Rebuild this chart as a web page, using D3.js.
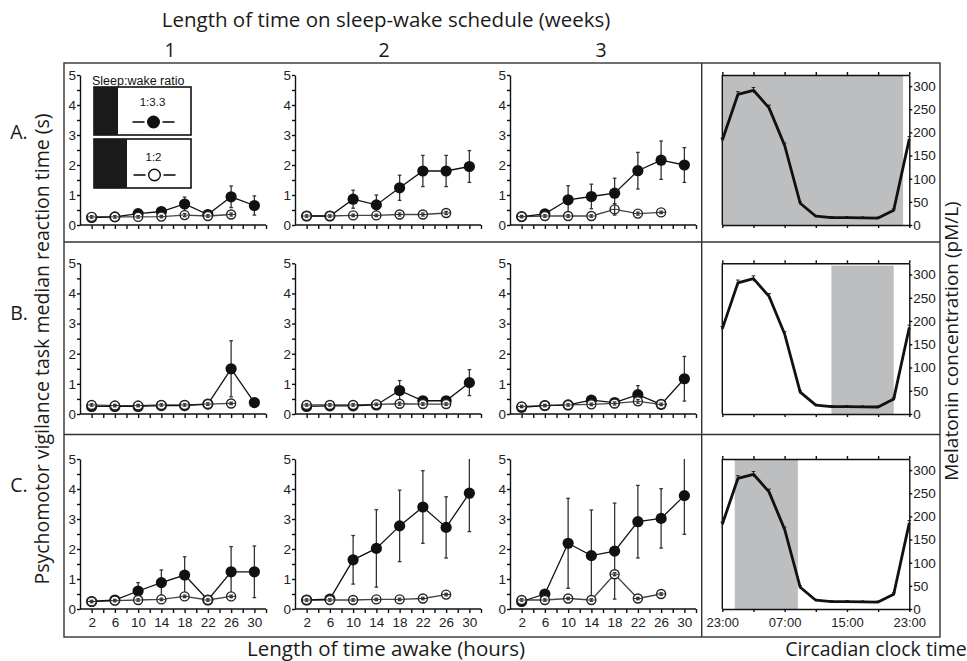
<!DOCTYPE html>
<html><head><meta charset="utf-8">
<script src="https://cdn.jsdelivr.net/npm/d3@7"></script>
<style>body{margin:0;background:#fff}svg{display:block}</style>
</head><body>
<svg id="c" width="967" height="661"></svg>
<script>
// ---------- data ----------
const hours = [2, 6, 10, 14, 18, 22, 26, 30];
const openHours = [2, 6, 10, 14, 18, 22, 26];
const rowLabels = ["A.", "B.", "C."];
const weekLabels = ["1", "2", "3"];
const xTickLabels = [2, 6, 10, 14, 18, 22, 26, 30];

// sleep:wake 1:3.3 (filled) mean and SEM, rows A-C x weeks 1-3
const filledA1 = [0.25, 0.27, 0.38, 0.45, 0.70, 0.35, 0.94, 0.65];
const filledA1err = [0.03, 0.03, 0.05, 0.06, 0.23, 0.05, 0.36, 0.32];
const filledA2 = [0.30, 0.30, 0.86, 0.67, 1.24, 1.80, 1.80, 1.95];
const filledA2err = [0.03, 0.03, 0.30, 0.33, 0.42, 0.52, 0.52, 0.53];
const filledA3 = [0.28, 0.37, 0.84, 0.95, 1.06, 1.81, 2.16, 2.00];
const filledA3err = [0.03, 0.05, 0.47, 0.41, 0.50, 0.61, 0.64, 0.58];
const filledB1 = [0.25, 0.25, 0.25, 0.28, 0.28, 0.33, 1.50, 0.38];
const filledB1err = [0.03, 0.03, 0.03, 0.03, 0.03, 0.04, 0.93, 0.04];
const filledB2 = [0.25, 0.27, 0.27, 0.30, 0.78, 0.44, 0.44, 1.04];
const filledB2err = [0.03, 0.03, 0.03, 0.04, 0.33, 0.05, 0.05, 0.43];
const filledB3 = [0.22, 0.28, 0.30, 0.46, 0.38, 0.64, 0.32, 1.17];
const filledB3err = [0.03, 0.03, 0.03, 0.12, 0.05, 0.30, 0.04, 0.74];
const filledC1 = [0.25, 0.30, 0.60, 0.88, 1.13, 0.30, 1.24, 1.24];
const filledC1err = [0.03, 0.04, 0.28, 0.42, 0.61, 0.04, 0.84, 0.86];
const filledC2 = [0.30, 0.33, 1.64, 2.02, 2.77, 3.40, 2.72, 3.86];
const filledC2err = [0.03, 0.04, 0.81, 1.29, 1.19, 1.21, 1.02, 1.28];
const filledC3 = [0.25, 0.50, 2.19, 1.78, 1.93, 2.91, 3.02, 3.78];
const filledC3err = [0.03, 0.05, 1.50, 1.52, 1.60, 1.21, 0.99, 1.29];

// sleep:wake 1:2 (open) mean and SEM
const openA1 = [0.27, 0.27, 0.27, 0.28, 0.33, 0.30, 0.35];
const openA1err = [0.04, 0.04, 0.04, 0.04, 0.05, 0.04, 0.05];
const openA2 = [0.30, 0.30, 0.32, 0.32, 0.35, 0.35, 0.40];
const openA2err = [0.04, 0.04, 0.04, 0.04, 0.05, 0.05, 0.05];
const openA3 = [0.28, 0.30, 0.30, 0.30, 0.52, 0.38, 0.42];
const openA3err = [0.04, 0.04, 0.04, 0.04, 0.19, 0.05, 0.04];
const openB1 = [0.30, 0.28, 0.28, 0.30, 0.30, 0.33, 0.35];
const openB1err = [0.04, 0.04, 0.04, 0.04, 0.04, 0.04, 0.04];
const openB2 = [0.30, 0.30, 0.30, 0.32, 0.34, 0.33, 0.33];
const openB2err = [0.04, 0.04, 0.04, 0.04, 0.05, 0.04, 0.04];
const openB3 = [0.25, 0.28, 0.30, 0.32, 0.35, 0.42, 0.32];
const openB3err = [0.04, 0.04, 0.04, 0.04, 0.05, 0.06, 0.04];
const openC1 = [0.25, 0.28, 0.30, 0.32, 0.42, 0.30, 0.42];
const openC1err = [0.04, 0.04, 0.04, 0.04, 0.04, 0.04, 0.04];
const openC2 = [0.30, 0.30, 0.30, 0.32, 0.32, 0.35, 0.48];
const openC2err = [0.04, 0.04, 0.04, 0.04, 0.04, 0.04, 0.04];
const openC3 = [0.30, 0.30, 0.35, 0.30, 1.16, 0.35, 0.50];
const openC3err = [0.04, 0.04, 0.04, 0.04, 0.05, 0.04, 0.04];

// melatonin profile (hours after 23:00) and shaded sleep windows
const clockHours = [0, 2, 4, 6, 8, 10, 12, 14, 16, 18, 20, 22, 24];
const melatonin = [183, 282, 291, 253, 172, 47, 19, 16, 16, 15.5, 15, 32, 186];
const melatoninErr = [5, 6, 6, 6, 5, 3, 2, 2, 2, 2, 2, 3, 5];
const clockTickHours = [0, 4, 8, 12, 16, 20, 24];
const clockLabels = {0: "23:00", 8: "07:00", 16: "15:00", 24: "23:00"};
const melTicks = [0, 50, 100, 150, 200, 250, 300];
const shadeStart = [0, 14, 1.6];
const shadeEnd = [23.2, 22, 9.7];
const shadeTop = [324, 319, 324];

const filled = [[filledA1, filledA2, filledA3], [filledB1, filledB2, filledB3], [filledC1, filledC2, filledC3]];
const filledErr = [[filledA1err, filledA2err, filledA3err], [filledB1err, filledB2err, filledB3err], [filledC1err, filledC2err, filledC3err]];
const open = [[openA1, openA2, openA3], [openB1, openB2, openB3], [openC1, openC2, openC3]];
const openErr = [[openA1err, openA2err, openA3err], [openB1err, openB2err, openB3err], [openC1err, openC2err, openC3err]];

// ---------- layout ----------
const svg = d3.select("#c");
const SANS = "'Liberation Sans', Arial, sans-serif";
const LAB = "'Open Sans', 'Noto Sans', sans-serif";
const colX0 = [80, 295, 510];
const rowY = [[225, 75], [414, 263.3], [609, 459]];
const melX = [722.3, 909.3];

// frame
const frame = svg.append("g").attr("stroke", "#333").attr("stroke-width", 1.4).attr("fill", "none");
frame.append("rect").attr("x", 64).attr("y", 63).attr("width", 876).attr("height", 574);
frame.append("line").attr("x1", 64).attr("x2", 940).attr("y1", 242).attr("y2", 242);
frame.append("line").attr("x1", 64).attr("x2", 940).attr("y1", 434.5).attr("y2", 434.5);
frame.append("line").attr("x1", 701.7).attr("x2", 701.7).attr("y1", 63).attr("y2", 637);

function styleAxis(g) {
  g.selectAll("path,line").attr("stroke", "#111").attr("stroke-width", 1.4);
  g.selectAll("text").attr("font-family", SANS).attr("font-size", 13.5).attr("fill", "#222");
}

function drawPanel(r, c) {
  const x = d3.scaleLinear().domain([0, 32]).range([colX0[c], colX0[c] + 186]);
  const y = d3.scaleLinear().domain([0, 5]).range(rowY[r]);
  const g = svg.append("g");
  const ya = g.append("g").attr("transform", `translate(${x(0)},0)`)
    .call(d3.axisLeft(y).tickValues(d3.range(0, 5.01, 0.5)).tickSize(3).tickSizeOuter(0).tickPadding(1)
      .tickFormat(d => Number.isInteger(d) ? d : ""));
  styleAxis(ya);
  const xa = g.append("g").attr("transform", `translate(0,${y(0)})`)
    .call(d3.axisBottom(x).tickValues(d3.range(2, 33, 2)).tickSize(4).tickSizeOuter(0).tickPadding(4)
      .tickFormat(d => (r === 2 && xTickLabels.includes(d)) ? d : ""));
  styleAxis(xa);
  xa.select(".domain").attr("d", `M${x(0)},0H${x(32)}`);

  const cl = v => Math.max(0, Math.min(5, v));
  const fd = hours.map((h, i) => ({h, v: filled[r][c][i], e: filledErr[r][c][i]}));
  const od = openHours.map((h, i) => ({h, v: open[r][c][i], e: openErr[r][c][i]}));
  const line = d3.line().x(d => x(d.h)).y(d => y(d.v));

  g.append("path").datum(od).attr("d", line).attr("fill", "none").attr("stroke", "#444").attr("stroke-width", 1.3);
  g.append("path").datum(fd).attr("d", line).attr("fill", "none").attr("stroke", "#111").attr("stroke-width", 1.3);

  function errBars(data, color) {
    const eb = g.append("g").attr("stroke", color).attr("stroke-width", 1.3);
    data.forEach(d => {
      const t = y(cl(d.v + d.e)), b = y(cl(d.v - d.e));
      eb.append("line").attr("x1", x(d.h)).attr("x2", x(d.h)).attr("y1", t).attr("y2", b);
      if (d.v + d.e <= 5) eb.append("line").attr("x1", x(d.h) - 1.8).attr("x2", x(d.h) + 1.8).attr("y1", t).attr("y2", t);
      eb.append("line").attr("x1", x(d.h) - 1.8).attr("x2", x(d.h) + 1.8).attr("y1", b).attr("y2", b);
    });
  }
  errBars(fd, "#333");
  g.append("g").selectAll("circle").data(fd).join("circle")
    .attr("cx", d => x(d.h)).attr("cy", d => y(d.v)).attr("r", 5.6).attr("fill", "#111");
  g.append("g").selectAll("circle").data(od).join("circle")
    .attr("cx", d => x(d.h)).attr("cy", d => y(d.v)).attr("r", 4.5)
    .attr("fill", "#fff").attr("stroke", "#222").attr("stroke-width", 1.4);
  const cr = g.append("g").attr("stroke", "#333").attr("stroke-width", 1);
  od.forEach(d => {
    cr.append("line").attr("x1", x(d.h) - 4).attr("x2", x(d.h) + 4).attr("y1", y(d.v)).attr("y2", y(d.v));
  });
  errBars(od, "#333");
}

for (let r = 0; r < 3; r++) for (let c = 0; c < 3; c++) drawPanel(r, c);

// melatonin panels
function drawMel(r) {
  const x = d3.scaleLinear().domain([0, 24]).range(melX);
  const y = d3.scaleLinear().domain([0, 324]).range(rowY[r]);
  const g = svg.append("g");
  g.append("rect").attr("x", x(shadeStart[r])).attr("width", x(shadeEnd[r]) - x(shadeStart[r]))
    .attr("y", y(shadeTop[r])).attr("height", y(0) - y(shadeTop[r])).attr("fill", "#bdbec0");
  const ra = g.append("g").attr("transform", `translate(${x(24)},0)`)
    .call(d3.axisRight(y).tickValues(melTicks).tickSize(3).tickSizeOuter(0).tickPadding(1));
  styleAxis(ra);
  const ta = g.append("g").attr("transform", `translate(0,${y(324)})`)
    .call(d3.axisTop(x).tickValues(clockTickHours).tickSize(3).tickSizeOuter(0).tickFormat(""));
  styleAxis(ta);
  const ba = g.append("g").attr("transform", `translate(0,${y(0)})`)
    .call(d3.axisBottom(x).tickValues(clockTickHours).tickSize(3).tickSizeOuter(0).tickPadding(6)
      .tickFormat(d => r === 2 && clockLabels[d] ? clockLabels[d] : ""));
  styleAxis(ba);
  ba.selectAll("text").attr("font-size", 13);
  g.append("line").attr("x1", x(0)).attr("x2", x(0)).attr("y1", y(0)).attr("y2", y(324))
    .attr("stroke", "#111").attr("stroke-width", 1.4);
  const md = clockHours.map((h, i) => ({h, v: melatonin[i], e: melatoninErr[i]}));
  const eb = g.append("g").attr("stroke", "#222").attr("stroke-width", 1);
  md.forEach(d => {
    eb.append("line").attr("x1", x(d.h)).attr("x2", x(d.h)).attr("y1", y(d.v + d.e)).attr("y2", y(d.v - d.e));
    eb.append("line").attr("x1", x(d.h) - 1.8).attr("x2", x(d.h) + 1.8).attr("y1", y(d.v + d.e)).attr("y2", y(d.v + d.e));
  });
  g.append("path").datum(md).attr("d", d3.line().x(d => x(d.h)).y(d => y(d.v)))
    .attr("fill", "none").attr("stroke", "#111").attr("stroke-width", 2.8).attr("stroke-linejoin", "round");
}
for (let r = 0; r < 3; r++) drawMel(r);

// legend (row A, week 1)
const lg = svg.append("g");
lg.append("text").attr("x", 92).attr("y", 84.5).text("Sleep:wake ratio")
  .attr("font-family", SANS).attr("font-size", 12.5).attr("fill", "#111");
const legendItems = [
  {label: "1:3.3", y0: 87, y1: 135, bw: 24, ly: 106, sy: 122, fill: "#111", cx: 153.5, r: 5.8},
  {label: "1:2", y0: 139, y1: 188, bw: 33, ly: 161, sy: 175, fill: "#fff", cx: 154.5, r: 5.8}
];
legendItems.forEach(it => {
  lg.append("rect").attr("x", 94).attr("y", it.y0).attr("width", 97).attr("height", it.y1 - it.y0)
    .attr("fill", "#fff").attr("stroke", "#111").attr("stroke-width", 1.6);
  lg.append("rect").attr("x", 94).attr("y", it.y0).attr("width", it.bw).attr("height", it.y1 - it.y0).attr("fill", "#1a1a1a");
  lg.append("text").attr("x", it.cx - 1).attr("y", it.ly).attr("text-anchor", "middle").text(it.label)
    .attr("font-family", SANS).attr("font-size", 11.5).attr("fill", "#111");
  lg.append("line").attr("x1", it.cx - 21).attr("x2", it.cx - 9).attr("y1", it.sy).attr("y2", it.sy).attr("stroke", "#111").attr("stroke-width", 1.6);
  lg.append("line").attr("x1", it.cx + 9).attr("x2", it.cx + 21).attr("y1", it.sy).attr("y2", it.sy).attr("stroke", "#111").attr("stroke-width", 1.6);
  lg.append("circle").attr("cx", it.cx).attr("cy", it.sy).attr("r", it.r).attr("fill", it.fill).attr("stroke", "#111").attr("stroke-width", 1.4);
});

// titles & labels
function label(txt, x, y, size, rot) {
  const t = svg.append("text").text(txt).attr("font-family", LAB).attr("font-size", size)
    .attr("fill", "#1a1a1a").attr("text-anchor", "middle");
  if (rot) t.attr("transform", `translate(${x},${y}) rotate(-90)`);
  else t.attr("x", x).attr("y", y);
  return t;
}
label("Length of time on sleep-wake schedule (weeks)", 386, 27, 20.5);
weekLabels.forEach((w, i) => label(w, [170, 384, 601][i], 57, 19.5));
rowLabels.forEach((l, i) => label(l, 19, [139, 320, 492][i], 19.5));
label("Psychomotor vigilance task median reaction time (s)", 49, 349, 19.5, true);
label("Melatonin concentration (pM/L)", 958, 341, 19, true);
label("Length of time awake (hours)", 386, 656, 20.5);
label("Circadian clock time", 876, 656, 19.5);
</script>
</body></html>
